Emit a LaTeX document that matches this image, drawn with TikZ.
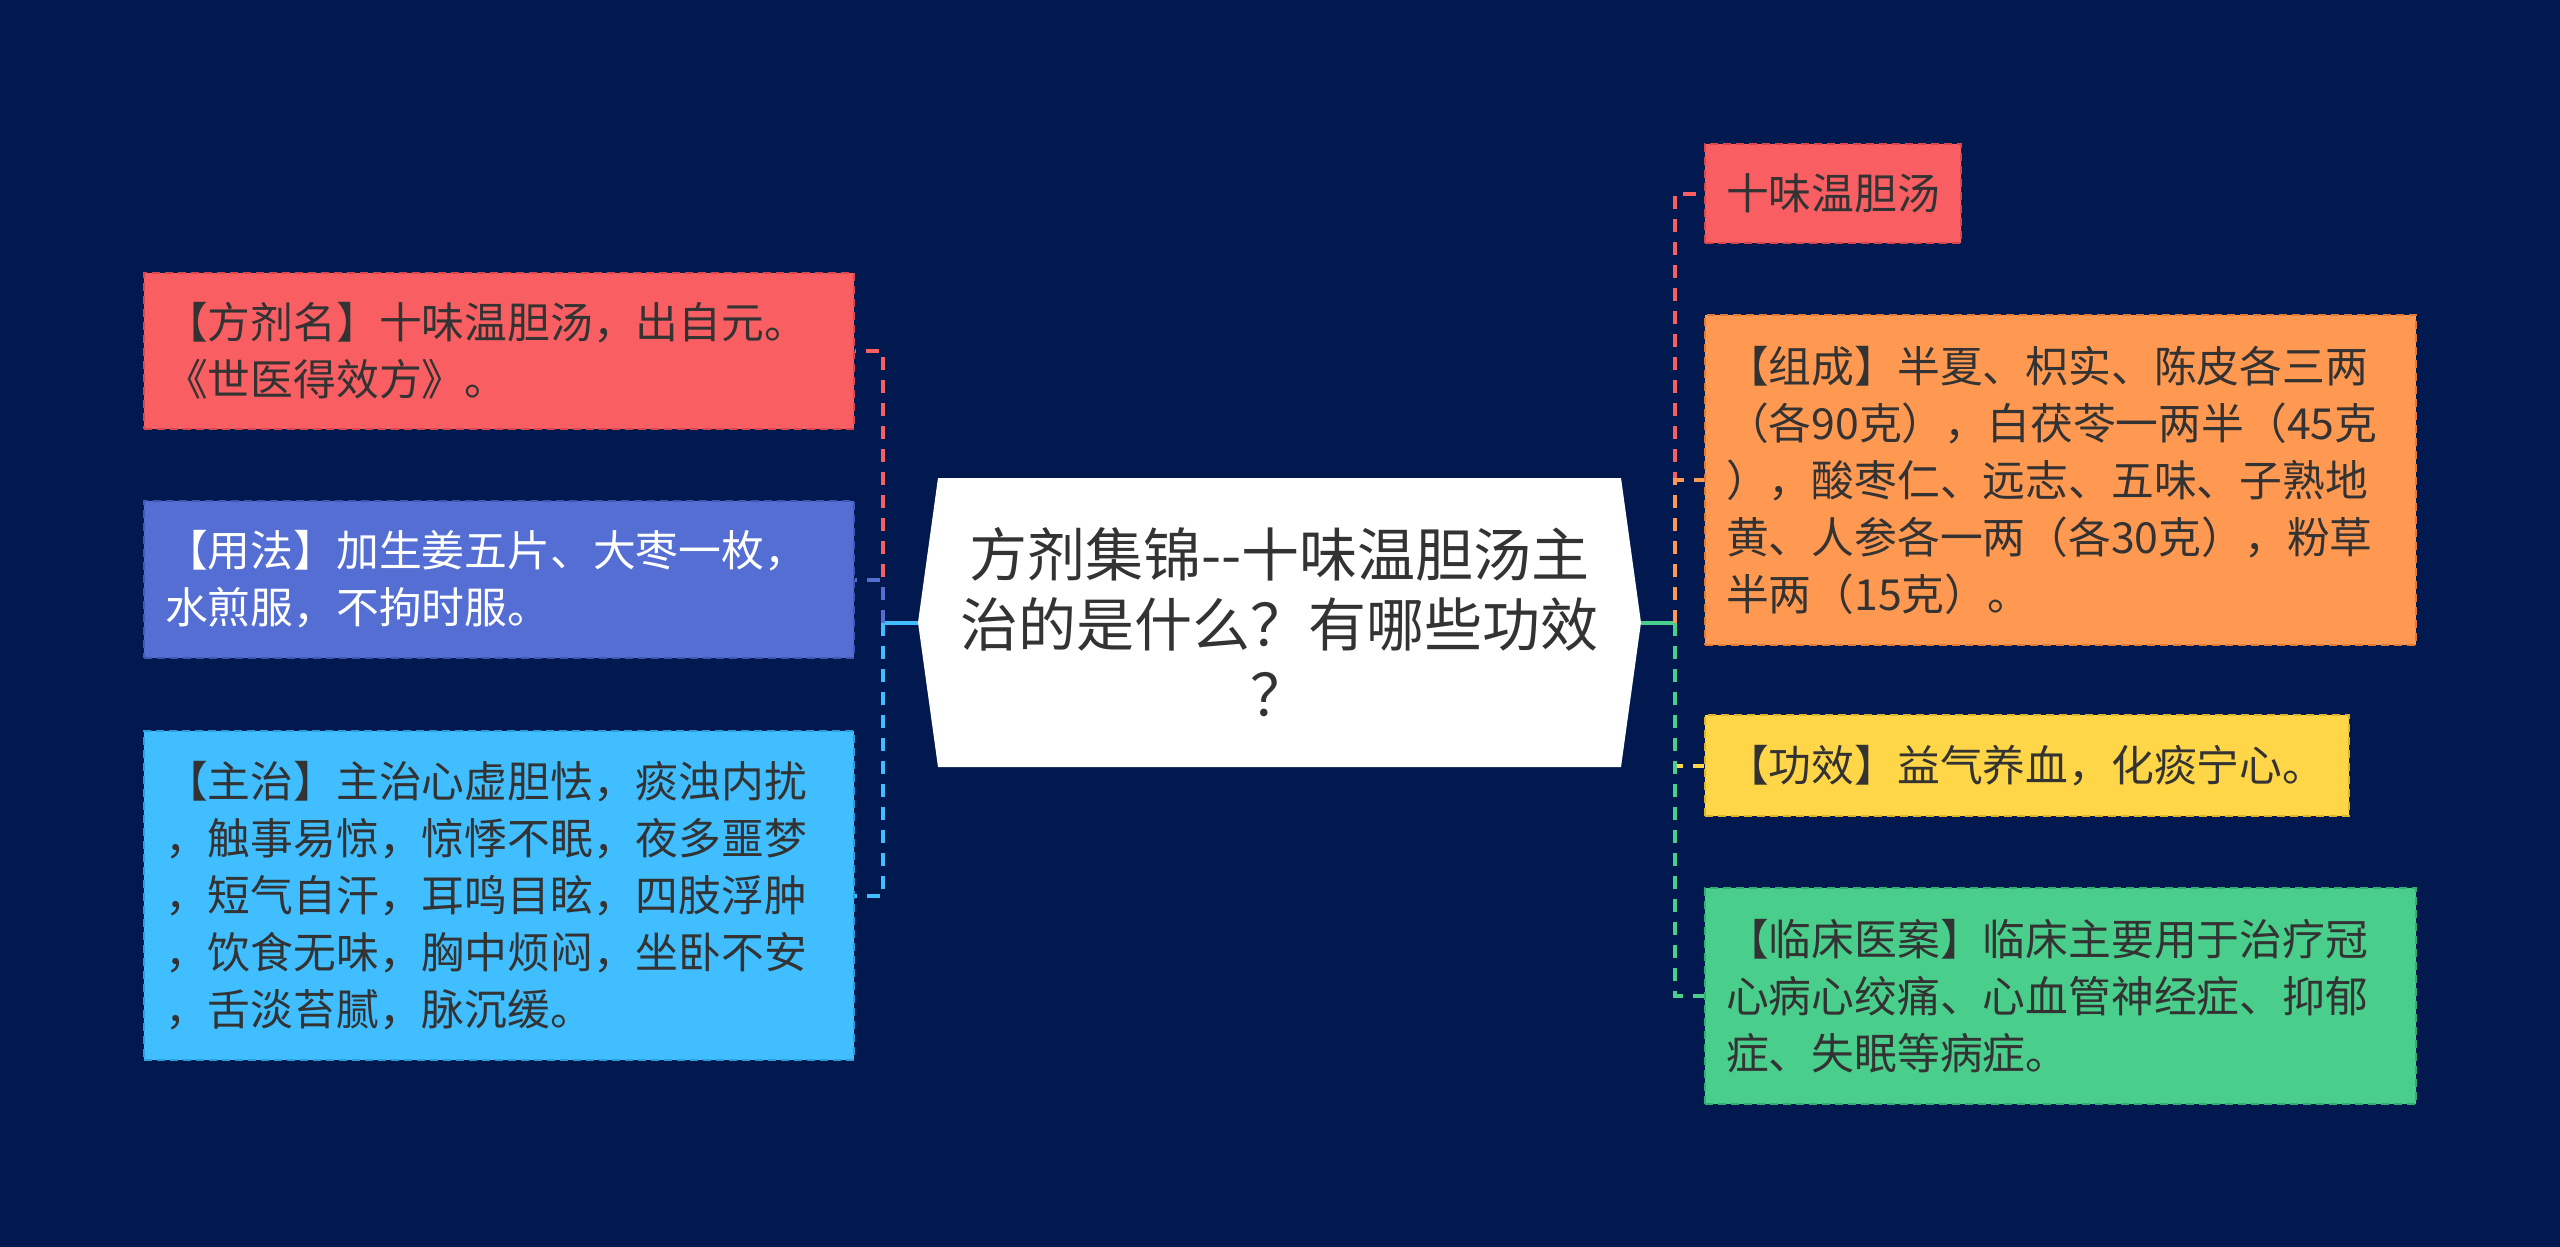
\documentclass[tikz,border=0pt]{standalone}
\usepackage{fontspec}
\setmainfont{Noto Sans CJK SC}
\definecolor{bg}{HTML}{02194F}
\definecolor{txt}{HTML}{333333}
\definecolor{cR}{HTML}{F95F62}
\definecolor{cRd}{HTML}{D8474B}
\definecolor{cB}{HTML}{546ED4}
\definecolor{cBd}{HTML}{3F57B5}
\definecolor{cL}{HTML}{40BEFF}
\definecolor{cLd}{HTML}{2A9FE0}
\definecolor{cO}{HTML}{FF9952}
\definecolor{cOd}{HTML}{E07A35}
\definecolor{cY}{HTML}{FFD647}
\definecolor{cYd}{HTML}{DDB22C}
\definecolor{cG}{HTML}{4ACE8C}
\definecolor{cGd}{HTML}{32AE70}
\tikzset{
  box/.style={dash pattern=on 4pt off 2.5pt, line width=1pt, inner xsep=10.5pt, inner ysep=0pt,
    align=left, font=\fontsize{21.4pt}{28.5pt}\selectfont, text=txt, anchor=center},
  conn/.style={line width=2pt, dash pattern=on 6.5pt off 5pt},
  solidconn/.style={line width=2pt},
  centertext/.style={align=center, font=\fontsize{29pt}{35pt}\selectfont, text=txt,
    minimum width=361.5pt, minimum height=144.5pt, inner sep=0pt}
}
\begin{document}
\begin{tikzpicture}[x=0.5pt,y=-0.5pt]
\fill[bg] (0,0) rectangle (2560,1247);
\useasboundingbox (0,0) rectangle (2560,1247);

% centre
\fill[white] (918,622.5) -- (938,478) -- (1621,478) -- (1641,622.5) -- (1621,767) -- (938,767) -- cycle;
\node[centertext] (c) at (1279.5,622.5) {方剂集锦-{}-十味温胆汤主\\治的是什么？有哪些功效\\？};

% left boxes
\node[box, fill=cR, draw=cRd, text width=334pt, minimum height=78pt] (l1) at (499,351)
  {【方剂名】十味温胆汤，出自元。\\《世医得效方》。};
\node[box, fill=cB, draw=cBd, text=white, text width=334pt, minimum height=78.5pt] (l2) at (499,579.5)
  {【用法】加生姜五片、大枣一枚，\\水煎服，不拘时服。};
\node[box, fill=cL, draw=cLd, text width=334pt, minimum height=164.5pt] (l3) at (499,895.5)
  {【主治】主治心虚胆怯，痰浊内扰\\，触事易惊，惊悸不眠，夜多噩梦\\，短气自汗，耳鸣目眩，四肢浮肿\\，饮食无味，胸中烦闷，坐卧不安\\，舌淡苔腻，脉沉缓。};

% right boxes
\node[box, fill=cR, draw=cRd, text width=107pt, minimum height=49.5pt] (r1) at (1833,193.5)
  {十味温胆汤};
\node[box, fill=cO, draw=cOd, text width=334.5pt, minimum height=165pt] (r2) at (2060.5,480)
  {【组成】半夏、枳实、陈皮各三两\\（各90克），白茯苓一两半（45克\\），酸枣仁、远志、五味、子熟地\\黄、人参各一两（各30克），粉草\\半两（15克）。};
\node[box, fill=cY, draw=cYd, text width=301pt, minimum height=50.5pt] (r3) at (2027,765.5)
  {【功效】益气养血，化痰宁心。};
\node[box, fill=cG, draw=cGd, text width=334.5pt, minimum height=108pt] (r4) at (2060.5,996)
  {【临床医案】临床主要用于治疗冠\\心病心绞痛、心血管神经症、抑郁\\症、失眠等病症。};

% connectors
\coordinate (lb) at (883,622.5);
\coordinate (rb) at (1675,622.5);
\draw[solidconn, cL] (c.west) -- (lb);
\draw[solidconn, cG] (c.east) -- (rb);
\draw[conn, cR] (lb) |- (l1.east);
\draw[conn, cB] (lb) |- (l2.east);
\draw[conn, cL] (lb) |- (l3.east);
\draw[conn, cR] (rb) |- (r1.west);
\draw[conn, cO] (rb) |- (r2.west);
\draw[conn, cY] (rb) |- (r3.west);
\draw[conn, cG] (rb) |- (r4.west);
\end{tikzpicture}
\end{document}
